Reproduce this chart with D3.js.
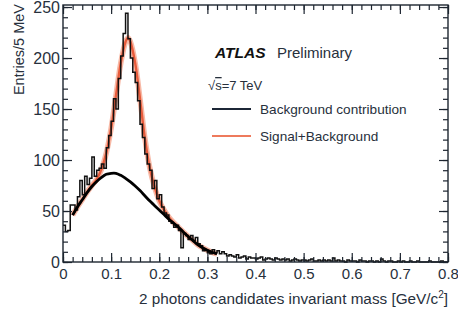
<!DOCTYPE html>
<html>
<head>
<meta charset="utf-8">
<script src="https://cdn.jsdelivr.net/npm/d3@7"></script>
<style>
	body { margin: 0; background: #fff; }
	svg { display: block; font-family: "Liberation Sans", Arial, sans-serif; }
</style>
</head>
<body>
<div id="visHolder"></div>
<script>
// histogram: 5 MeV bins from 0 to 0.8 GeV
const binWidth = 0.005;
const counts = [
	36, 30, 31, 56, 56, 51, 64, 80, 66, 84,
	76, 82, 103, 84, 90, 92, 96, 92, 112, 124,
	138, 160, 150, 180, 202, 224, 244, 219, 200, 186,
	176, 158, 135, 122, 106, 96, 90, 72, 80, 62,
	66, 54, 48, 46, 40, 38, 34, 36, 31, 14,
	28, 26, 22, 26, 21, 24, 18, 16, 11, 12,
	9, 8, 12, 9, 11, 8, 10, 8, 6, 7,
	6, 5, 7, 4, 5, 6, 3, 5, 4, 4,
	3, 4, 5, 2, 3, 4, 3, 2, 4, 3,
	2, 3, 2, 3, 1, 2, 3, 2, 1, 2,
	2, 1, 2, 3, 1, 1, 2, 1, 2, 1,
	2, 1, 4, 1, 2, 1, 1, 0, 2, 1,
	1, 1, 0, 2, 1, 1, 0, 1, 1, 0,
	1, 0, 3, 1, 0, 1, 1, 0, 0, 1,
	0, 1, 0, 0, 1, 0, 0, 1, 0, 0,
	0, 0, 1, 0, 0, 0, 0, 1, 0, 0,
];

// background fit curve
const bgX = [
	0.02, 0.03, 0.04, 0.05, 0.06, 0.07, 0.08, 0.09, 0.1, 0.11,
	0.12, 0.13, 0.14, 0.15, 0.16, 0.17, 0.18, 0.19, 0.2, 0.21,
	0.22, 0.23, 0.24, 0.25, 0.26, 0.27, 0.28, 0.29, 0.3, 0.31, 0.32,
];
const bgY = [
	46, 54, 61, 68, 74, 79, 83, 86, 87, 87,
	85, 82, 78.5, 74.5, 70, 65, 60, 55.5, 51, 46.5,
	42, 38, 34, 29.5, 25, 21, 17, 14, 11.5, 9.5, 8,
];

// signal + background fit curve
const sbX = [
	0.02, 0.03, 0.04, 0.05, 0.06, 0.07, 0.08, 0.09, 0.1, 0.11,
	0.12, 0.13, 0.135, 0.14, 0.15, 0.16, 0.17, 0.18, 0.19, 0.2,
	0.21, 0.22, 0.23, 0.24, 0.25, 0.26, 0.27, 0.28, 0.29, 0.3, 0.31, 0.32,
];
const sbY = [
	46, 54, 61, 68.5, 75, 81, 91, 107, 131, 163,
	195, 216, 220, 216, 195, 160, 122, 93, 74, 60,
	51, 44, 38.5, 34, 29.5, 25, 21, 17, 14, 11.5, 9.5, 8,
];

const xTicks = [0, 0.1, 0.2, 0.3, 0.4, 0.5, 0.6, 0.7, 0.8];
const xMinor = d3.range(0, 0.8001, 0.02);
const yTicks = [0, 50, 100, 150, 200, 250];
const yMinor = d3.range(0, 251, 10);

const legendLabels = ["Background contribution", "Signal+Background"];
const legendColors = ["#1c2636", "#ee7a5c"];

const width = 458;
const height = 315;
const margin = { top: 5, right: 10, bottom: 53, left: 63 };
const textColor = "#27303c";

const svg = d3
	.select("#visHolder")
	.append("svg")
	.attr("width", width)
	.attr("height", height);

svg.append("rect").attr("width", width).attr("height", height).attr("fill", "#fff");

const x = d3
	.scaleLinear()
	.domain([0, 0.8])
	.range([margin.left, width - margin.right]);
const y = d3
	.scaleLinear()
	.domain([0, 252])
	.range([height - margin.bottom, margin.top]);

const plot = svg.append("g");

// signal+background curve (under the histogram)
const curveLine = d3
	.line()
	.x((d) => x(d[0]))
	.y((d) => y(d[1]))
	.curve(d3.curveCatmullRom);

const sbPoints = d3.zip(sbX, sbY);
plot
	.append("path")
	.attr("d", curveLine(sbPoints))
	.attr("fill", "none")
	.attr("stroke", "#f7b9a6")
	.attr("stroke-width", 5.5);
plot
	.append("path")
	.attr("d", curveLine(sbPoints))
	.attr("fill", "none")
	.attr("stroke", "#e85c3c")
	.attr("stroke-width", 2.4);

// histogram steps
const histPoints = counts.map((c, i) => [i * binWidth, c]);
histPoints.push([counts.length * binWidth, counts[counts.length - 1]]);
plot
	.append("path")
	.attr(
		"d",
		d3
			.line()
			.x((d) => x(d[0]))
			.y((d) => y(d[1]))
			.curve(d3.curveStepAfter)(histPoints)
	)
	.attr("fill", "none")
	.attr("stroke", "#111")
	.attr("stroke-width", 1.5);

// background curve
plot
	.append("path")
	.attr("d", curveLine(d3.zip(bgX, bgY)))
	.attr("fill", "none")
	.attr("stroke", "#000")
	.attr("stroke-width", 2.8);

// frame and ticks
const frameColor = "#1d2530";
const tickStyle = (size) => (g) => {
	g.select(".domain").remove();
	g.selectAll("line").attr("stroke", frameColor).attr("stroke-width", 1.2);
	g.selectAll("text")
		.attr("fill", textColor)
		.style("font-size", size + "px")
		.style("font-family", "'Liberation Sans', Arial, sans-serif");
};

svg.append("g")
	.attr("transform", `translate(0,${y(0)})`)
	.call(d3.axisBottom(x).tickValues(xMinor).tickSize(-5).tickFormat(""))
	.call(tickStyle(15));
svg.append("g")
	.attr("transform", `translate(0,${y(0)})`)
	.call(
		d3.axisBottom(x).tickValues(xTicks).tickSize(-9).tickPadding(6)
			.tickFormat(d3.format(".1~f"))
	)
	.call(tickStyle(15));
svg.append("g")
	.attr("transform", `translate(0,${margin.top})`)
	.call(d3.axisTop(x).tickValues(xMinor).tickSize(-5).tickFormat(""))
	.call(tickStyle(15));
svg.append("g")
	.attr("transform", `translate(0,${margin.top})`)
	.call(d3.axisTop(x).tickValues(xTicks).tickSize(-9).tickFormat(""))
	.call(tickStyle(15));

svg.append("g")
	.attr("transform", `translate(${x(0)},0)`)
	.call(d3.axisLeft(y).tickValues(yMinor).tickSize(-5).tickFormat(""))
	.call(tickStyle(16));
svg.append("g")
	.attr("transform", `translate(${x(0)},0)`)
	.call(d3.axisLeft(y).tickValues(yTicks).tickSize(-9).tickPadding(3))
	.call(tickStyle(16));
svg.append("g")
	.attr("transform", `translate(${x(0.8)},0)`)
	.call(d3.axisRight(y).tickValues(yMinor).tickSize(-5).tickFormat(""))
	.call(tickStyle(16));
svg.append("g")
	.attr("transform", `translate(${x(0.8)},0)`)
	.call(d3.axisRight(y).tickValues(yTicks).tickSize(-9).tickFormat(""))
	.call(tickStyle(16));

svg.append("rect")
	.attr("x", x(0))
	.attr("y", margin.top)
	.attr("width", x(0.8) - x(0))
	.attr("height", y(0) - margin.top)
	.attr("fill", "none")
	.attr("stroke", frameColor)
	.attr("stroke-width", 1.4);

// axis titles
svg.append("text")
	.attr("x", x(0.8))
	.attr("y", 304)
	.attr("text-anchor", "end")
	.attr("fill", textColor)
	.style("font-size", "15.3px")
	.html('2 photons candidates invariant mass [GeV/c<tspan dy="-6" font-size="10px">2</tspan><tspan dy="6">]</tspan>');

svg.append("text")
	.attr("transform", `translate(24,${margin.top - 1}) rotate(-90)`)
	.attr("text-anchor", "end")
	.attr("fill", textColor)
	.style("font-size", "14.5px")
	.text("Entries/5 MeV");

// labels and legend
svg.append("text")
	.attr("x", 215)
	.attr("y", 58)
	.attr("fill", "#111")
	.style("font-size", "15.5px")
	.style("font-weight", "bold")
	.style("font-style", "italic")
	.text("ATLAS");
svg.append("text")
	.attr("x", 277)
	.attr("y", 58)
	.attr("fill", textColor)
	.style("font-size", "15px")
	.text("Preliminary");

svg.append("text")
	.attr("x", 208)
	.attr("y", 90)
	.attr("fill", textColor)
	.style("font-size", "13px")
	.html('\u221A<tspan text-decoration="overline">s</tspan>=7 TeV');

const legend = svg
	.append("g")
	.selectAll("g")
	.data(legendLabels)
	.join("g")
	.attr("transform", (_d, i) => `translate(212,${109 + i * 27})`);
legend
	.append("line")
	.attr("x1", 0)
	.attr("x2", 39)
	.attr("stroke", (_d, i) => legendColors[i])
	.attr("stroke-width", 2);
legend
	.append("text")
	.attr("x", 48)
	.attr("y", 5)
	.attr("fill", textColor)
	.style("font-size", "13.6px")
	.text((d) => d);
</script>
</body>
</html>
